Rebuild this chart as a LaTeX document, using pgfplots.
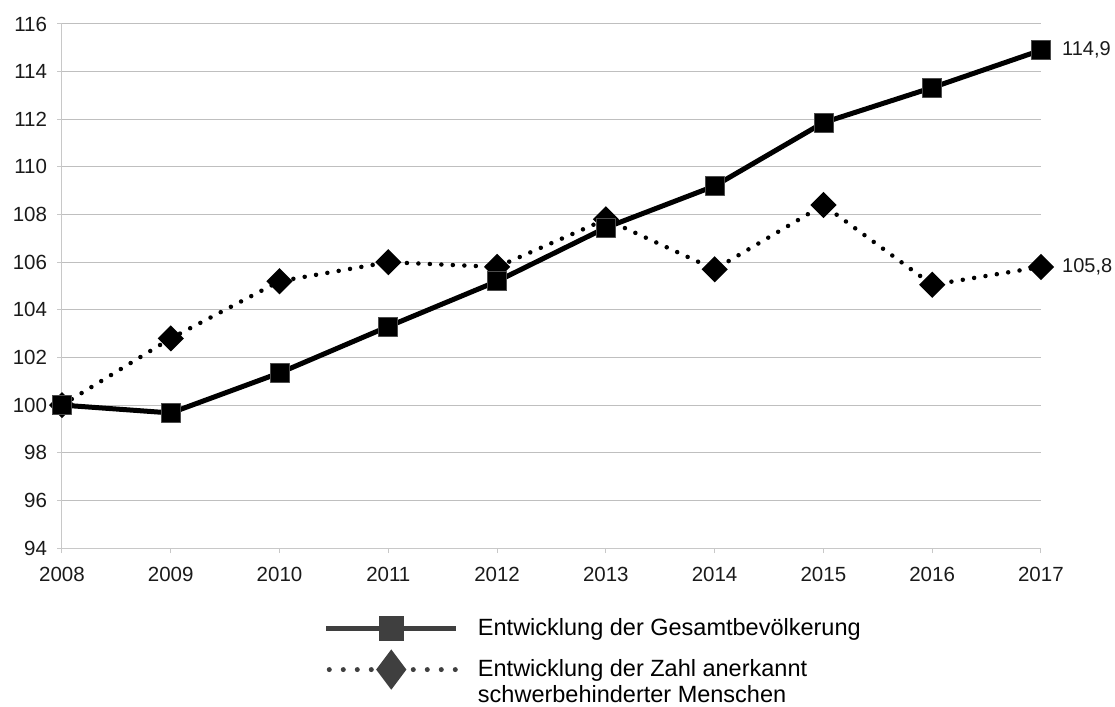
\documentclass[border=0pt]{standalone}
\usepackage{pgfplots}
\pgfplotsset{compat=1.18}
\usepackage{fontspec}
\setmainfont{Liberation Sans}
\definecolor{gridc}{HTML}{BFBFBF}
\definecolor{axc}{HTML}{C8C8C8}
\definecolor{legc}{HTML}{3F3F3F}
\definecolor{txt}{HTML}{1A1A1A}
\begin{document}
\fontsize{20.5}{24}\selectfont
\begin{tikzpicture}
\begin{axis}[
  name=ax,
  scale only axis,
  width=979pt, height=524pt,
  xmin=2008, xmax=2017, ymin=94, ymax=116,
  xtick={2008,...,2017}, ytick={94,96,...,116},
  /pgf/number format/assume math mode=true,
  /pgf/number format/1000 sep={},
  axis x line*=bottom, axis y line*=left,
  axis line style={axc, line width=1pt, -},
  ymajorgrids, grid style={gridc, line width=1pt},
  tick align=outside, major tick length=5pt,
  tick style={axc, line width=1pt},
  ticklabel style={txt, font=\fontsize{20.5}{24}\selectfont},
  yticklabel style={xshift=-3pt},
  xticklabel style={yshift=-7pt},
  clip=false,
  legend style={draw=none, fill=none, at={(0.267,-0.1322)}, anchor=north west,
    font=\fontsize{23.5}{25.5}\selectfont, row sep=14pt, inner sep=0pt,
    nodes={inner sep=1pt},
    /tikz/every even column/.append style={column sep=0pt}},
  legend cell align=left,
  legend image code/.code={%
    \draw[mark repeat=2,mark phase=2,#1] plot coordinates {(0pt,0pt) (65pt,0pt) (130pt,0pt)};},
]
\addlegendimage{legc, line width=5.4pt, mark=square*, mark size=10pt, mark options={solid, fill=legc}}
\addlegendentry{\hspace{18pt}Entwicklung der Gesamtbevölkerung}
\addlegendimage{legc, line width=5pt, line cap=round, dash pattern=on 0pt off 14pt, dash phase=-3pt, mark=diamond*, mark size=16pt, mark options={solid, fill=legc}}
\addlegendentry{\hspace{18pt}\begin{tabular}[t]{@{}l@{}}Entwicklung der Zahl anerkannt\\schwerbehinderter Menschen\\[-8pt]\end{tabular}}

\addplot[black, line width=4.5pt, line cap=round, dash pattern=on 0pt off 11.5pt,
  mark=square*, mark size=7pt, mark options={solid, rotate=45, fill=black}, forget plot]
  coordinates {(2008,100) (2009,102.8) (2010,105.2) (2011,106.0) (2012,105.8) (2013,107.8) (2014,105.7) (2015,108.4) (2016,105.05) (2017,105.8)};
\addplot[black, line width=5pt, line join=round,
  mark=square*, mark size=9.5pt, mark options={solid, fill=black, draw=black!70, line width=0.8pt}, forget plot]
  coordinates {(2008,100) (2009,99.67) (2010,101.35) (2011,103.3) (2012,105.2) (2013,107.45) (2014,109.2) (2015,111.86) (2016,113.33) (2017,114.9)};
\node[anchor=west, txt, inner sep=0pt, xshift=21pt, font=\fontsize{20}{24}\selectfont] at (axis cs:2017,114.9) {114,9};
\node[anchor=west, txt, inner sep=0pt, xshift=21pt, font=\fontsize{20}{24}\selectfont] at (axis cs:2017,105.8) {105,8};
\end{axis}
\pgfresetboundingbox
\path[use as bounding box] ([shift={(-62pt,-158pt)}]ax.south west) rectangle ([shift={(74pt,24pt)}]ax.north east);
\end{tikzpicture}
\end{document}
